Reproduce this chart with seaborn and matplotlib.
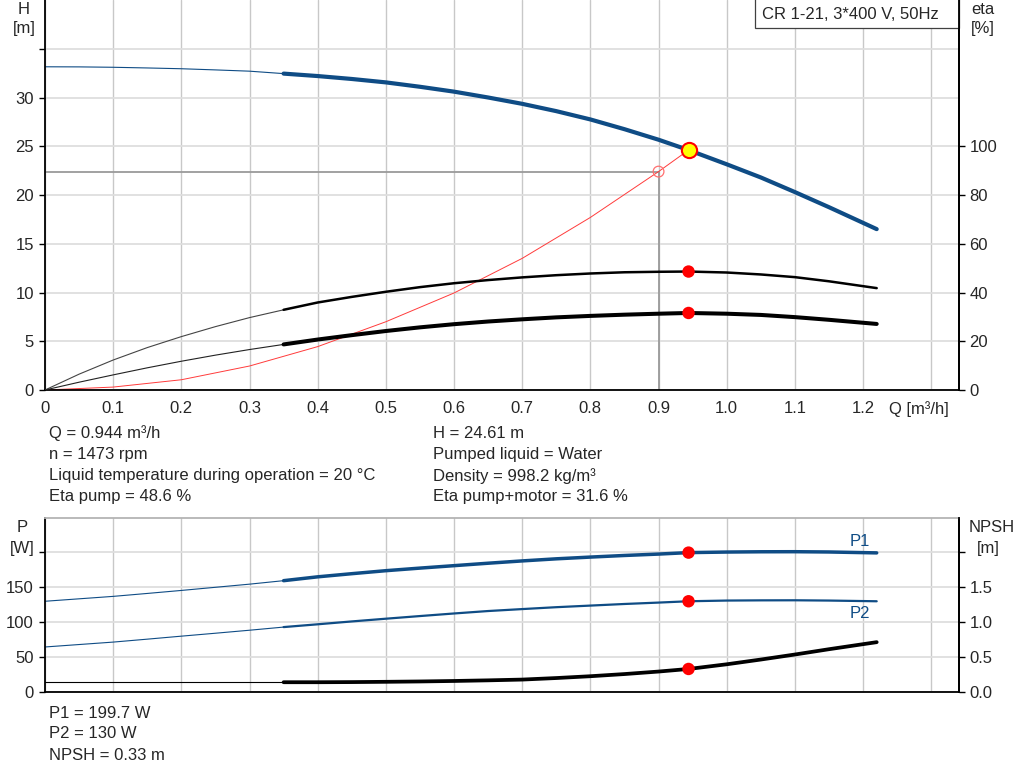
import numpy as np
import pandas as pd
import matplotlib.pyplot as plt
import seaborn as sns
from matplotlib.patches import Rectangle

# values, Q in m3/h
q = [0, 0.05, 0.1, 0.15, 0.2, 0.25, 0.3, 0.35, 0.4, 0.45, 0.5, 0.55, 0.6,
     0.65, 0.7, 0.75, 0.8, 0.85, 0.9, 0.944, 1.0, 1.05, 1.1, 1.15, 1.22]
head = [33.15, 33.14, 33.1, 33.03, 32.95, 32.83, 32.7, 32.45, 32.2, 31.9, 31.55, 31.1, 30.6,
        30.0, 29.35, 28.6, 27.75, 26.75, 25.67, 24.61, 23.15, 21.8, 20.3, 18.75, 16.5]
eta_pump = [0, 6.5, 12.3, 17.4, 21.9, 26.0, 29.7, 32.9, 35.9, 38.2, 40.3, 42.2, 43.8,
            45.1, 46.2, 47.1, 47.8, 48.3, 48.5, 48.6, 48.2, 47.4, 46.3, 44.6, 41.8]
eta_total = [0, 3.2, 6.2, 9.1, 11.8, 14.3, 16.6, 18.7, 20.7, 22.5, 24.2, 25.7, 27.0,
             28.1, 29.0, 29.8, 30.4, 30.9, 31.3, 31.6, 31.3, 30.8, 29.9, 28.8, 27.1]
p1 = [130, 133.5, 137, 141.2, 145.5, 150, 154.5, 159.5, 165, 169.5, 173.8, 177.5, 181,
      184.5, 187.8, 190.8, 193.3, 195.6, 197.6, 199.7, 200.5, 200.9, 201, 200.6, 199.3]
p2 = [64.5, 68, 71.5, 75.7, 80, 84.2, 88.5, 93, 97, 101.1, 105, 108.8, 112.5,
      116, 118.8, 121.5, 123.8, 126.1, 128.1, 130, 131, 131.3, 131.4, 131, 130]
npsh = [0.14, 0.14, 0.14, 0.14, 0.14, 0.14, 0.14, 0.14, 0.14, 0.142, 0.146, 0.151, 0.158,
        0.167, 0.178, 0.2, 0.226, 0.257, 0.293, 0.33, 0.397, 0.465, 0.537, 0.613, 0.714]

# system curve (red) up to the duty point
q_sys = [0, 0.1, 0.2, 0.3, 0.4, 0.5, 0.6, 0.7, 0.8, 0.9, 0.944]
h_sys = [0, 0.3, 1.05, 2.46, 4.45, 7.0, 9.95, 13.5, 17.7, 22.4, 24.61]

q_duty, h_duty = 0.944, 24.61
eta_pump_duty, eta_total_duty = 48.6, 31.6
p1_duty, p2_duty, npsh_duty = 199.7, 130, 0.33
q_req, h_req = 0.9, 22.4
q_min = 0.35  # thin line below this flow

x_ticks = [0, 0.1, 0.2, 0.3, 0.4, 0.5, 0.6, 0.7, 0.8, 0.9, 1.0, 1.1, 1.2, 1.3]
h_ticks = [0, 5, 10, 15, 20, 25, 30, 35]
eta_ticks = [0, 20, 40, 60, 80, 100]
p_ticks = [0, 50, 100, 150, 200]
npsh_ticks = [0.0, 0.5, 1.0, 1.5, 2.0]

curves = pd.DataFrame({"Q": q, "H": head, "eta_pump": eta_pump, "eta_total": eta_total,
                       "P1": p1, "P2": p2, "NPSH": npsh})
system = pd.DataFrame({"Q": q_sys, "H": h_sys})

blue = "#0f4c85"
fs = 12

sns.set_style("white")
plt.rcParams["font.family"] = ["Liberation Sans", "DejaVu Sans"]
plt.rcParams["font.size"] = fs

W, H = 1024, 781
fig = plt.figure(figsize=(W / 100, H / 100), dpi=100)
ax1 = fig.add_axes([45 / W, 1 - 390 / H, 913.5 / W, 390 / H])
ax2 = fig.add_axes([45 / W, 1 - 692 / H, 913.5 / W, 174.5 / H])
ax1b = ax1.twinx()
ax2b = ax2.twinx()


def curve(ax, col, color, lw, thin_color=None):
    thin = curves[curves["Q"] <= q_min]
    thick = curves[curves["Q"] >= q_min]
    sns.lineplot(data=thin, x="Q", y=col, ax=ax, color=thin_color or color, lw=0.8, legend=False)
    sns.lineplot(data=thick, x="Q", y=col, ax=ax, color=color, lw=lw, legend=False,
                 solid_capstyle="round")


# top panel
sns.lineplot(data=system, x="Q", y="H", ax=ax1, color="#ff3b3b", lw=0.7, legend=False)
ax1.plot([0, q_req], [h_req, h_req], color="#9a9a9a", lw=1.3, zorder=1)
ax1.plot([q_req, q_req], [0, h_req], color="#9a9a9a", lw=1.3, zorder=1)
curve(ax1, "H", blue, 3.0)
ax1.scatter([q_req], [h_req], s=60, facecolor="none", edgecolor="#ff7070", lw=0.9, zorder=5)
ax1.scatter([q_duty], [h_duty], s=120, facecolor="#ffff00", edgecolor="#ff0000", lw=1.5, zorder=6)
curve(ax1b, "eta_pump", "black", 1.8, "#444444")
curve(ax1b, "eta_total", "black", 2.9, "#222222")
sns.scatterplot(x=[q_duty, q_duty], y=[eta_pump_duty, eta_total_duty], ax=ax1b,
                color="#ff0000", s=80, edgecolor="none", zorder=6, legend=False)

# bottom panel
curve(ax2, "P1", blue, 2.5)
curve(ax2, "P2", blue, 1.6)
curve(ax2b, "NPSH", "black", 2.7)
sns.scatterplot(x=[q_duty, q_duty], y=[p1_duty, p2_duty], ax=ax2,
                color="#ff0000", s=80, edgecolor="none", zorder=6, legend=False)
sns.scatterplot(x=[q_duty], y=[npsh_duty], ax=ax2b,
                color="#ff0000", s=80, edgecolor="none", zorder=6, legend=False)

for ax in (ax1, ax1b, ax2, ax2b):
    ax.set_xlim(0, 1.34)
    ax.set_xlabel("")
    ax.set_ylabel("")
    ax.tick_params(direction="out", length=4.5, width=1, color="black", labelsize=fs, pad=3.5)

ax1.set_ylim(0, 40)
ax1b.set_ylim(0, 160)
ax2.set_ylim(0, 250)
ax2b.set_ylim(0, 2.5)

ax1.set_xticks(x_ticks)
ax1.set_xticklabels(["0"] + [f"{v:.1f}" for v in x_ticks[1:-1]] + [""])
ax1.set_yticks(h_ticks)
ax1.set_yticklabels([str(v) for v in h_ticks[:-1]] + [""])
ax1b.set_yticks(eta_ticks)
ax2.set_xticks(x_ticks)
ax2.set_xticklabels([])
ax2.tick_params(axis="x", length=0)
ax2b.tick_params(axis="x", length=0)
ax2.set_yticks(p_ticks)
ax2.set_yticklabels([str(v) for v in p_ticks[:-1]] + [""])
ax2b.set_yticks(npsh_ticks)
ax2b.set_yticklabels([f"{v:.1f}" for v in npsh_ticks[:-1]] + [""])

for ax in (ax1, ax2):
    ax.grid(True, axis="x", color="#c8c8c8", lw=1.0)
    ax.grid(True, axis="y", color="#dedede", lw=1.3)
    ax.set_axisbelow(True)
    for s in ("left", "bottom", "right"):
        ax.spines[s].set_color("black")
        ax.spines[s].set_linewidth(1.3)
for ax in (ax1b, ax2b):
    for s in ("left", "bottom", "top"):
        ax.spines[s].set_visible(False)
    ax.spines["right"].set_color("black")
    ax.spines["right"].set_linewidth(1.3)
    ax.grid(False)
ax1.spines["top"].set_visible(False)
ax2.spines["top"].set_color("#b4b4b4")
ax2.spines["top"].set_linewidth(1.3)

# model box
ax1.add_patch(Rectangle((0.777, 0.928), 0.223, 0.08, transform=ax1.transAxes,
                        facecolor="white", edgecolor="#404040", lw=0.9, zorder=10, clip_on=False))
ax1.text(0.7845, 0.964, "CR 1-21, 3*400 V, 50Hz", transform=ax1.transAxes,
         ha="left", va="center", fontsize=fs, zorder=11)


def ftext(x, y, s, **kw):
    fig.text(x / W, 1 - y / H, s, va="center", fontsize=fs, **kw)


ftext(24, 9, "H", ha="center")
ftext(24, 29, "[m]", ha="center")
ftext(983, 10, "eta", ha="center")
ftext(983, 29, "[%]", ha="center")
ftext(919, 409, "Q [m³/h]", ha="center")
ftext(22, 527, "P", ha="center")
ftext(22, 548, "[W]", ha="center")
ftext(992, 527, "NPSH", ha="center")
ftext(988, 548, "[m]", ha="center")
ftext(860, 541, "P1", ha="center", color=blue)
ftext(860, 614, "P2", ha="center", color=blue)

left_info = ["Q = 0.944 m³/h", "n = 1473 rpm",
             "Liquid temperature during operation = 20 °C", "Eta pump = 48.6 %"]
right_info = ["H = 24.61 m", "Pumped liquid = Water",
              "Density = 998.2 kg/m³", "Eta pump+motor = 31.6 %"]
for i, (a, b) in enumerate(zip(left_info, right_info)):
    ftext(49, 433 + i * 21.3, a, ha="left")
    ftext(433, 433 + i * 21.3, b, ha="left")
for i, s in enumerate(["P1 = 199.7 W", "P2 = 130 W", "NPSH = 0.33 m"]):
    ftext(49, 713 + i * 21, s, ha="left")

fig.savefig("out.png", dpi=100)
